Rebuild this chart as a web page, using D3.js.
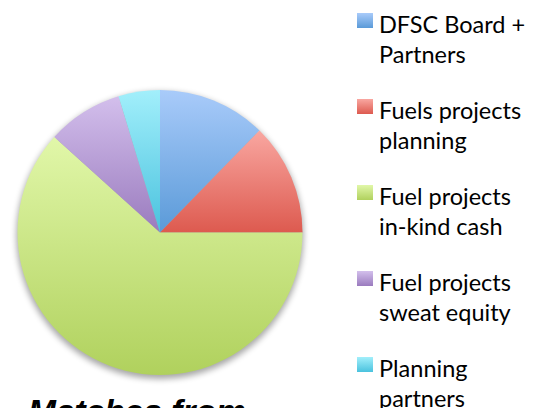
<!DOCTYPE html>
<html>
<head>
<meta charset="utf-8">
<script src="https://cdn.jsdelivr.net/npm/d3@7"></script>
<style>
  html, body { margin: 0; padding: 0; background: #fff; overflow: hidden; }
  svg { display: block; }
</style>
</head>
<body>
<svg id="chart" width="544" height="408"></svg>
<script>
// data (share of the pie, %)
const categories = ["DFSC Board + Partners", "Fuels projects planning", "Fuel projects in-kind cash", "Fuel projects sweat equity", "Planning partners"];
const legendLines = [["DFSC Board +", "Partners"], ["Fuels projects", "planning"], ["Fuel projects", "in-kind cash"], ["Fuel projects", "sweat equity"], ["Planning", "partners"]];
const values = [12.3, 12.7, 61.7, 8.6, 4.7];
const topColors = ["#a9cbfa", "#f9a7a1", "#e1f7a9", "#d3bfec", "#a2effb"];
const bottomColors = ["#5a9ad8", "#dd5a4f", "#b0d15d", "#9a7bbe", "#4ac2de"];
const title = "Matches from";

const width = 544, height = 408;
const cx = 160, cy = 232.5, radius = 142.5;

const svg = d3.select("#chart");
const defs = svg.append("defs");

// one vertical gradient per slice, over the slice's own box
categories.forEach((c, i) => {
  const g = defs.append("linearGradient")
    .attr("id", "grad" + i)
    .attr("x1", 0).attr("y1", 0).attr("x2", 0).attr("y2", 1);
  g.append("stop").attr("offset", "0%").attr("stop-color", topColors[i]);
  g.append("stop").attr("offset", "100%").attr("stop-color", bottomColors[i]);
});

const shadow = defs.append("filter")
  .attr("id", "shadow")
  .attr("x", "-20%").attr("y", "-20%").attr("width", "140%").attr("height", "140%");
shadow.append("feGaussianBlur").attr("stdDeviation", 3);

const pie = d3.pie().sort(null).value(d => d);
const arc = d3.arc().innerRadius(0).outerRadius(radius);
const arcs = pie(values);

const g = svg.append("g").attr("transform", `translate(${cx},${cy})`);

// soft shadow under the pie
g.append("circle")
  .attr("cx", 0).attr("cy", 3)
  .attr("r", radius + 1)
  .attr("fill", "#000")
  .attr("opacity", 0.35)
  .attr("filter", "url(#shadow)");

g.selectAll("path.slice")
  .data(arcs)
  .join("path")
    .attr("class", "slice")
    .attr("d", arc)
    .attr("fill", (d, i) => `url(#grad${i})`);

// legend
const legend = svg.append("g").attr("transform", "translate(357,0)");
const y0 = 13, step = 86;

const items = legend.selectAll("g")
  .data(categories)
  .join("g")
    .attr("transform", (d, i) => `translate(0,${y0 + i * step})`);

items.append("rect")
  .attr("width", 16).attr("height", 15)
  .attr("fill", (d, i) => `url(#grad${i})`);

items.append("text")
  .attr("x", 22)
  .attr("y", 20)
  .attr("font-family", "Lato, 'Open Sans', sans-serif")
  .attr("font-size", 23.5)
  .attr("fill", "#000")
  .selectAll("tspan")
  .data((d, i) => legendLines[i])
  .join("tspan")
    .attr("x", 22)
    .attr("dy", (d, j) => j === 0 ? 0 : 30)
    .text(d => d);

// title, cut off by the bottom edge
svg.append("text")
  .attr("x", 28)
  .attr("y", 423)
  .attr("font-family", "'Liberation Sans', Arial, sans-serif")
  .attr("font-size", 33.5)
  .attr("font-weight", "bold")
  .attr("font-style", "italic")
  .attr("fill", "#000")
  .text(title);
</script>
</body>
</html>
